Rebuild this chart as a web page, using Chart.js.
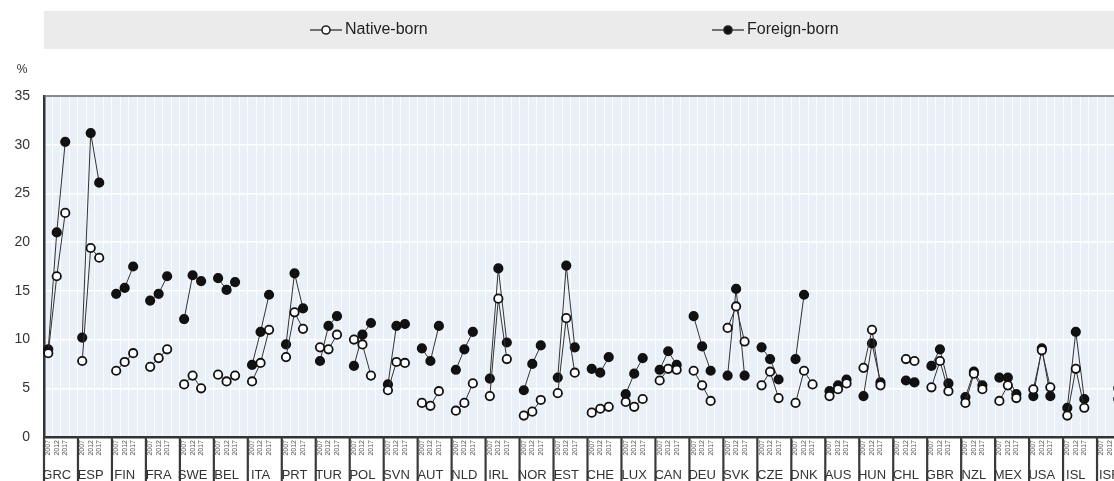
<!DOCTYPE html>
<html>
<head>
<meta charset="utf-8">
<script src="https://cdn.jsdelivr.net/npm/chart.js@4.4.0/dist/chart.umd.min.js"></script>
<style>
  html, body { margin: 0; padding: 0; background: #fff; overflow: hidden; }
  #wrap { width: 1140px; height: 481px; }
</style>
</head>
<body>
<div id="wrap"><canvas id="c" width="1140" height="481"></canvas></div>
<script>
// Countries, each shown for three years
const countries = ['GRC','ESP','FIN','FRA','SWE','BEL','ITA','PRT','TUR','POL','SVN','AUT','NLD','IRL','NOR','EST',
                   'CHE','LUX','CAN','DEU','SVK','CZE','DNK','AUS','HUN','CHL','GBR','NZL','MEX','USA','ISL','ISR'];
const years = ['2007', '2012', '2017'];

// Unemployment rate (%), one triple per country
const nativeBorn = [
  [8.6,16.5,23.0],[7.8,19.4,18.4],[6.8,7.7,8.6],[7.2,8.1,9.0],[5.4,6.3,5.0],[6.4,5.7,6.3],
  [5.7,7.6,11.0],[8.2,12.8,11.1],[9.2,9.0,10.5],[10.0,9.5,6.3],[4.8,7.7,7.6],[3.5,3.2,4.7],
  [2.7,3.5,5.5],[4.2,14.2,8.0],[2.2,2.6,3.8],[4.5,12.2,6.6],[2.5,2.9,3.1],[3.6,3.1,3.9],
  [5.8,7.0,6.9],[6.8,5.3,3.7],[11.2,13.4,9.8],[5.3,6.7,4.0],[3.5,6.8,5.4],[4.2,4.9,5.5],
  [7.1,11.0,5.3],[null,8.0,7.8],[5.1,7.8,4.7],[3.5,6.5,4.9],[3.7,5.3,4.0],[4.9,8.9,5.1],
  [2.2,7.0,3.0],[null,null,5.0]
];
const foreignBorn = [
  [9.0,21.0,30.3],[10.2,31.2,26.1],[14.7,15.3,17.5],[14.0,14.7,16.5],[12.1,16.6,16.0],[16.3,15.1,15.9],
  [7.4,10.8,14.6],[9.5,16.8,13.2],[7.8,11.4,12.4],[7.3,10.5,11.7],[5.4,11.4,11.6],[9.1,7.8,11.4],
  [6.9,9.0,10.8],[6.0,17.3,9.7],[4.8,7.5,9.4],[6.1,17.6,9.2],[7.0,6.6,8.2],[4.4,6.5,8.1],
  [6.9,8.8,7.4],[12.4,9.3,6.8],[6.3,15.2,6.3],[9.2,8.0,5.9],[8.0,14.6,null],[4.7,5.3,5.9],
  [4.2,9.6,5.6],[null,5.8,5.6],[7.3,9.0,5.5],[4.1,6.7,5.3],[6.1,6.1,4.4],[4.2,9.1,4.2],
  [3.0,10.8,3.9],[null,null,3.9]
];

const seriesNames = ['Native-born', 'Foreign-born'];
const yMax = 35, yStep = 5;

// Flatten into slots: three years per country followed by an empty spacer slot
const labels = [], nativeData = [], foreignData = [];
countries.forEach((c, i) => {
  years.forEach((y, j) => {
    labels.push(y);
    nativeData.push(nativeBorn[i][j]);
    foreignData.push(foreignBorn[i][j]);
  });
  labels.push('');
  nativeData.push(null);
  foreignData.push(null);
});

const narrow = '"Liberation Sans Narrow", "Arial Narrow", "Liberation Sans", Arial, sans-serif';

// Plot background, frame, legend band and country codes
const decor = {
  id: 'decor',
  beforeDraw(chart) {
    const { ctx, chartArea: a } = chart;
    ctx.save();
    ctx.fillStyle = '#e9f0f8';
    ctx.fillRect(a.left, a.top, a.right - a.left, a.bottom - a.top);
    // legend band
    ctx.fillStyle = '#ebebeb';
    ctx.fillRect(44, 11, chart.width - 44, 38);
    ctx.restore();
  },
  afterDraw(chart) {
    const { ctx, chartArea: a } = chart;
    const x = chart.scales.x;
    ctx.save();
    // top frame line
    ctx.strokeStyle = '#666';
    ctx.lineWidth = 1.5;
    ctx.beginPath();
    ctx.moveTo(a.left, a.top);
    ctx.lineTo(a.right, a.top);
    ctx.stroke();

    // country separators and codes below the year labels
    const slot = x.getPixelForValue(1) - x.getPixelForValue(0);
    ctx.font = '13px ' + narrow;
    ctx.fillStyle = '#333';
    ctx.textAlign = 'center';
    ctx.textBaseline = 'top';
    countries.forEach((c, i) => {
      const left = x.getPixelForValue(i * 4) - slot / 2;
      ctx.strokeStyle = '#3a3a3a';
      ctx.lineWidth = 2.2;
      ctx.beginPath();
      ctx.moveTo(left, a.bottom);
      ctx.lineTo(left, chart.height);
      ctx.stroke();
      ctx.fillText(c, x.getPixelForValue(i * 4 + 1), a.bottom + 32);
    });

    // "%" unit label
    ctx.font = '12px ' + narrow;
    ctx.fillStyle = '#333';
    ctx.textAlign = 'center';
    ctx.textBaseline = 'middle';
    ctx.fillText('%', 22, 70);

    // legend items
    const items = [
      { x0: 310, fill: '#fff', text: seriesNames[0] },
      { x0: 712, fill: '#111', text: seriesNames[1] }
    ];
    const ly = 30;
    items.forEach(it => {
      ctx.strokeStyle = '#222';
      ctx.lineWidth = 1.2;
      ctx.beginPath();
      ctx.moveTo(it.x0, ly);
      ctx.lineTo(it.x0 + 32, ly);
      ctx.stroke();
      ctx.beginPath();
      ctx.arc(it.x0 + 16, ly, 4, 0, Math.PI * 2);
      ctx.fillStyle = it.fill;
      ctx.fill();
      ctx.lineWidth = 1.6;
      ctx.stroke();
      ctx.font = '16px ' + narrow;
      ctx.fillStyle = '#222';
      ctx.textAlign = 'left';
      ctx.textBaseline = 'middle';
      ctx.fillText(it.text, it.x0 + 35, ly);
    });
    ctx.restore();
  }
};

const pointCommon = {
  borderColor: '#333',
  borderWidth: 1,
  pointRadius: 4.2,
  pointHoverRadius: 4.2,
  pointBorderColor: '#111',
  pointBorderWidth: 1.8,
  spanGaps: false,
  tension: 0,
  fill: false
};

new Chart(document.getElementById('c'), {
  type: 'line',
  data: {
    labels: labels,
    datasets: [
      Object.assign({ label: seriesNames[0], data: nativeData, pointBackgroundColor: '#fff' }, pointCommon),
      Object.assign({ label: seriesNames[1], data: foreignData, pointBackgroundColor: '#111' }, pointCommon)
    ]
  },
  options: {
    responsive: false,
    animation: false,
    devicePixelRatio: 1,
    layout: { padding: { top: 96, right: 9, bottom: 0, left: 0 } },
    plugins: { legend: { display: false }, tooltip: { enabled: false } },
    scales: {
      x: {
        type: 'category',
        offset: true,
        grid: { color: 'rgba(255,255,255,0.9)', lineWidth: 1, offset: true, drawTicks: false },
        border: { display: true, color: '#333', width: 2.5 },
        ticks: {
          autoSkip: false, maxRotation: 90, minRotation: 90,
          font: { size: 7, family: narrow }, color: '#555', padding: 3
        },
        afterFit(scale) { scale.height = 44; }
      },
      y: {
        min: 0, max: yMax,
        grid: { color: '#ffffff', lineWidth: 1.5, drawTicks: false },
        border: { display: true, color: '#333', width: 2.5 },
        ticks: { stepSize: yStep, font: { size: 14, family: narrow }, color: '#333', padding: 14 },
        afterFit(scale) { scale.width = 44; }
      }
    }
  },
  plugins: [decor]
});
</script>
</body>
</html>
